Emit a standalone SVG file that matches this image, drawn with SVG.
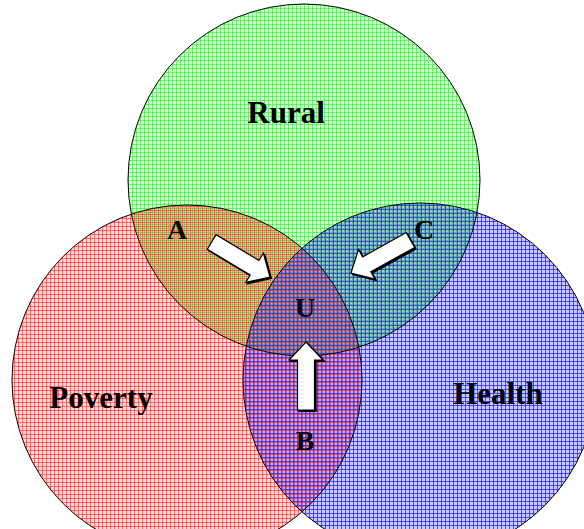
<svg xmlns="http://www.w3.org/2000/svg" width="584" height="529" viewBox="0 0 584 529">
<defs>
<pattern id="pg" width="4" height="4" patternUnits="userSpaceOnUse">
<rect width="4" height="4" fill="#22dd22" fill-opacity="0.18"/>
<rect x="0" y="0" width="1" height="4" fill="#33ee33" fill-opacity="0.65"/>
<rect x="0" y="0" width="4" height="1" fill="#33ee33" fill-opacity="0.65"/>
</pattern>
<pattern id="pr" width="4" height="4" patternUnits="userSpaceOnUse">
<rect width="4" height="4" fill="#ff2222" fill-opacity="0.16"/>
<rect x="2" y="0" width="1" height="4" fill="#ff3333" fill-opacity="0.65"/>
<rect x="0" y="2" width="4" height="1" fill="#ff3333" fill-opacity="0.65"/>
</pattern>
<pattern id="pb" width="4" height="4" patternUnits="userSpaceOnUse">
<rect width="4" height="4" fill="#4d4dff" fill-opacity="0.3"/>
<rect x="1" y="0" width="1" height="4" fill="#3030ff" fill-opacity="0.85"/>
<rect x="0" y="1" width="4" height="1" fill="#3030ff" fill-opacity="0.85"/>
</pattern>
<path id="arw" d="M0,0 L17,18 L8.5,18 L8.5,68 L-8.5,68 L-8.5,18 L-17,18 Z"/>
</defs>
<style>
.edge{fill:none;stroke:#000;stroke-width:1}
.big{font-family:"Liberation Serif",serif;font-weight:bold;font-size:31px;text-anchor:middle;fill:#000}
.lbl{font-family:"Liberation Serif",serif;font-weight:bold;font-size:28px;text-anchor:middle;fill:#000}
.arrow{fill:#fff;stroke:#000;stroke-width:1.2;stroke-linejoin:miter}
.shadow{fill:#000;stroke:#000;stroke-width:1.2}
</style>
<rect width="584" height="529" fill="#fff"/>
<g id="rural"><circle cx="304" cy="180" r="176" fill="url(#pg)"/></g>
<g id="poverty"><circle cx="187" cy="380" r="175" fill="url(#pr)"/></g>
<g id="health"><circle cx="420" cy="380" r="177" fill="url(#pb)"/></g>
<circle class="edge" cx="304" cy="180" r="176"/>
<circle class="edge" cx="187" cy="380" r="175"/>
<circle class="edge" cx="420" cy="380" r="177"/>
<text class="big" x="286" y="123">Rural</text>
<text class="big" x="101" y="408">Poverty</text>
<text class="big" x="498" y="404">Health</text>
<text class="lbl" x="177" y="239">A</text>
<text class="lbl" x="424" y="239">C</text>
<text class="lbl" x="305" y="317">U</text>
<text class="lbl" x="305" y="450">B</text>
<g id="connectors">
<g transform="translate(271.5,278.5) rotate(121)"><use href="#arw" class="shadow"/></g>
<g transform="translate(270,277) rotate(121)"><use href="#arw" class="arrow"/></g>
<g transform="translate(352.5,274.5) rotate(-119)"><use href="#arw" class="shadow"/></g>
<g transform="translate(351,273) rotate(-119)"><use href="#arw" class="arrow"/></g>
<g transform="translate(307.5,343.5)"><use href="#arw" class="shadow"/></g>
<g transform="translate(306,342)"><use href="#arw" class="arrow"/></g>
</g>
</svg>
